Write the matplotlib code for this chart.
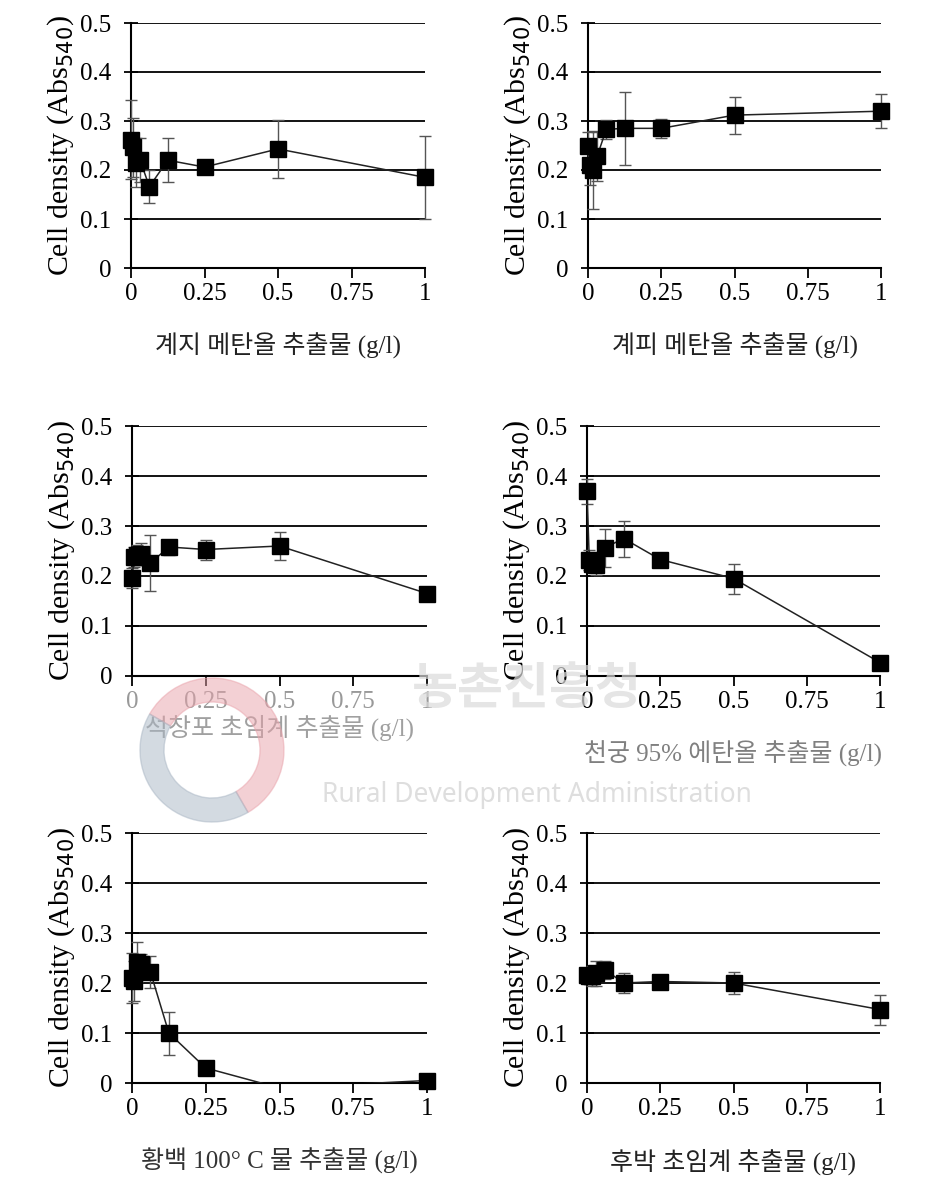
import matplotlib
matplotlib.use("Agg")
import matplotlib.pyplot as plt
from matplotlib.patches import Wedge
import numpy as np

# extract concentrations (g/l)
conc = [0, 0.0078, 0.0156, 0.031, 0.0625, 0.125, 0.25, 0.5, 1]

# cell density (Abs540) and error for each extract
gyeji_y = [0.262, 0.246, 0.215, 0.22, 0.166, 0.22, 0.206, 0.243, 0.185]
gyeji_err = [0.08, 0.06, 0.05, 0.045, 0.033, 0.045, 0.015, 0.06, 0.085]

gyepi_y = [0.248, 0.21, 0.2, 0.228, 0.283, 0.285, 0.285, 0.312, 0.32]
gyepi_err = [0.03, 0.04, 0.08, 0.05, 0.02, 0.075, 0.02, 0.038, 0.035]

seokchangpo_y = [0.197, 0.238, 0.242, 0.245, 0.226, 0.258, 0.253, 0.26, 0.165]
seokchangpo_err = [0.02, 0.02, 0.02, 0.022, 0.056, 0.015, 0.02, 0.028, 0.01]

cheongung_y = [0.37, 0.232, 0.225, 0.222, 0.257, 0.275, 0.233, 0.195, 0.027]
cheongung_err = [0.025, 0.02, 0.015, 0.02, 0.038, 0.036, 0.01, 0.03, 0.01]

hwangbaek_y = [0.21, 0.205, 0.242, 0.238, 0.222, 0.1, 0.03, -0.01, 0.005]
hwangbaek_err = [0.05, 0.04, 0.04, 0.02, 0.032, 0.043, 0.005, 0, 0.005]

hubak_y = [0.216, 0.214, 0.215, 0.22, 0.226, 0.2, 0.203, 0.2, 0.147]
hubak_err = [0.015, 0.015, 0.02, 0.025, 0.018, 0.02, 0.012, 0.022, 0.03]

xlabels = ["계지 메탄올 추출물 (g/l)", "계피 메탄올 추출물 (g/l)",
           "석창포 초임계 추출물 (g/l)", "천궁 95% 에탄올 추출물 (g/l)",
           "황백 100° C 물 추출물 (g/l)", "후박 초임계 추출물 (g/l)"]
xticks = [0, 0.25, 0.5, 0.75, 1]
xticklabels = ["0", "0.25", "0.5", "0.75", "1"]
yticks = [0, 0.1, 0.2, 0.3, 0.4, 0.5]
yticklabels = ["0", "0.1", "0.2", "0.3", "0.4", "0.5"]

series = [(gyeji_y, gyeji_err), (gyepi_y, gyepi_err),
          (seokchangpo_y, seokchangpo_err), (cheongung_y, cheongung_err),
          (hwangbaek_y, hwangbaek_err), (hubak_y, hubak_err)]

W, H = 933, 1192
# axes boxes in pixels: left, right, top, bottom
boxes = [(131, 425, 23, 268), (588, 881, 23, 268),
         (132, 427, 426, 676), (587, 880, 426, 676),
         (132, 427, 833, 1083), (587, 880, 833, 1083)]
label_pads = [20, 20, 1, 20, 20, 20]
label_colors = ["#222222", "#222222", "#a0a0a0", "#808080", "#333333", "#222222"]
tick_colors = ["black", "black", "#999999", "black", "black", "black"]

serif = ["Liberation Serif", "Noto Sans CJK KR"]
plt.rcParams["font.family"] = serif

fig = plt.figure(figsize=(W / 100, H / 100), dpi=100)

for i, ((y, err), box) in enumerate(zip(series, boxes)):
    l, r, t, b = box
    ax = fig.add_axes([l / W, 1 - b / H, (r - l) / W, (b - t) / H])
    y = np.array(y)
    err = np.array(err)
    x = np.array(conc)
    shown = y >= 0
    ax.errorbar(x[shown], y[shown], yerr=err[shown], fmt="none", ecolor="#555555",
                elinewidth=1.0, capsize=4, capthick=1.0, zorder=3, clip_on=False)
    ax.plot(x, y, color="#222222", lw=1.1, zorder=4)
    ax.plot(x[shown], y[shown], ls="none", marker="s", ms=11, color="black",
            zorder=5, clip_on=False)
    ax.set_xlim(0, 1)
    ax.set_ylim(0, 0.5)
    ax.set_xticks(xticks)
    ax.set_xticklabels(xticklabels, fontsize=18, color=tick_colors[i])
    ax.set_yticks(yticks)
    ax.set_yticklabels(yticklabels, fontsize=18)
    ax.tick_params(axis="x", direction="out", length=7, width=1.3, pad=4)
    ax.tick_params(axis="y", direction="inout", length=10, width=1.3, pad=9)
    ax.yaxis.grid(True, color="black", lw=1.3)
    ax.set_axisbelow(True)
    for s in ["top", "right"]:
        ax.spines[s].set_visible(False)
    for s in ["left", "bottom"]:
        ax.spines[s].set_linewidth(1.5)
    ax.set_ylabel("Cell density (Abs$_{540}$)", fontsize=21.5, labelpad=3)
    ax.set_xlabel(xlabels[i], fontsize=18, labelpad=label_pads[i], color=label_colors[i])

# faint agency watermark over the middle row
wm = fig.add_axes([0, 0, 1, 1], zorder=10)
wm.set_xlim(0, W)
wm.set_ylim(H, 0)
wm.axis("off")
wm.add_patch(Wedge((212, 750), 72, -150, 60, width=24, color="#e9a3ab", alpha=0.5))
wm.add_patch(Wedge((212, 750), 72, 60, 210, width=24, color="#a9b6c4", alpha=0.5))
wm.text(527, 690, "농촌진흥청", fontsize=36, color="#dadada", alpha=0.7,
        ha="center", va="center", family="Noto Sans CJK KR", fontweight="bold")
wm.text(537, 795, "Rural Development Administration", fontsize=19, color="#d6d6d6",
        alpha=0.8, ha="center", va="center", family="Noto Sans")

fig.savefig("out.png", dpi=100)
